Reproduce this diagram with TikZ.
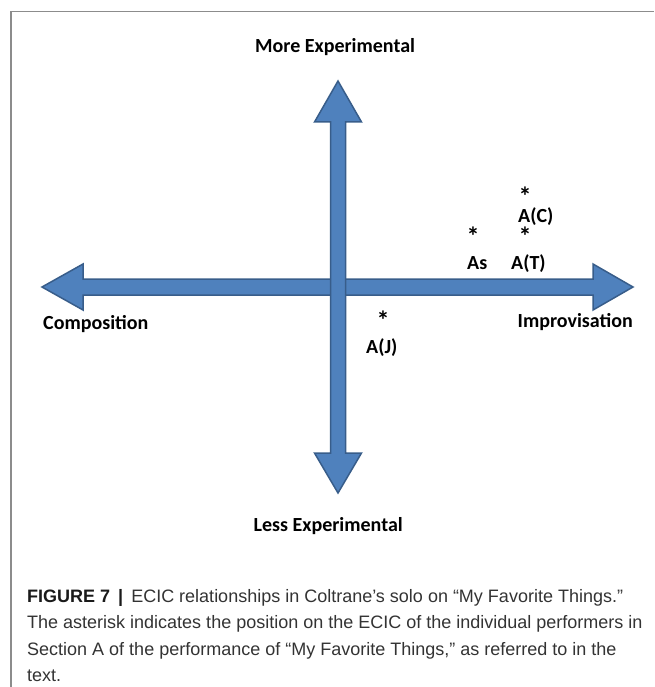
\documentclass[tikz,border=0pt]{standalone}
\usepackage{fontspec}
\setmainfont{Carlito}
\newfontfamily\capfont{Liberation Sans}
\definecolor{arrowfill}{HTML}{4F81BD}
\definecolor{arrowedge}{HTML}{385D8A}
\definecolor{framegray}{HTML}{8C8C8C}
\definecolor{captext}{HTML}{333333}
\definecolor{capbold}{HTML}{1A1A1A}
\begin{document}
\begin{tikzpicture}[x=1pt,y=-1pt,
  lbl/.style={font=\bfseries\fontsize{20}{24}\selectfont, inner sep=0pt, text=black},
  perf/.style={lbl, anchor=base west, text depth=0pt},
  star/.style={font=\bfseries\fontsize{26}{30}\selectfont, inner sep=0pt, anchor=base, text=black, text height=14pt, text depth=0pt},
  arrowshape/.style={fill=arrowfill, draw=arrowedge, line width=1.5pt, line join=miter},
  capline/.style={font=\capfont\fontsize{18}{22}\selectfont, inner sep=0pt, anchor=base west, text=captext}]
\useasboundingbox (0,0) rectangle (654,687);
% frame
\draw[framegray, line width=1.3pt] (11,687) -- (11,11.5) -- (654,11.5);
% horizontal double arrow
\path[arrowshape] (42,287) -- (83,264) -- (83,279) -- (593,279) -- (593,264) -- (633,287)
  -- (593,310) -- (593,295) -- (83,295) -- (83,310) -- cycle;
% vertical double arrow
\path[arrowshape] (338,81) -- (361.5,122) -- (345.5,122) -- (345.5,453) -- (361.5,453) -- (338,493)
  -- (314.5,453) -- (330.5,453) -- (330.5,122) -- (314.5,122) -- cycle;
% axis labels
\node[lbl, anchor=base west] (more) at (255,53) {More Experimental};
\node[lbl, anchor=base east] (less) at (403,531) {Less Experimental};
\node[lbl, anchor=base west] (comp) at (43,329) {Composition};
\node[lbl, anchor=base east] (impr) at (633,327) {Improvisation};
% performers
\node[perf] (as) at (467,269) {As};
\node[perf] (at) at (511,269) {A(T)};
\node[perf] (ac) at (518,222) {A(C)};
\node[perf] (aj) at (366,353) {A(J)};
\node[star] (sas) at (473,245) {*};
\node[star] (sat) at (525,245) {*};
\node[star] (sac) at (525,205) {*};
\node[star] (saj) at (383,329) {*};
% caption
\node[capline] (cap1) at (27,602.3) {\textcolor{capbold}{\bfseries FIGURE 7 \,|\,} ECIC relationships in Coltrane’s solo on “My Favorite Things.”};
\node[capline] (cap2) at (27,628.8) {The asterisk indicates the position on the ECIC of the individual performers in};
\node[capline] (cap3) at (27,655) {Section A of the performance of “My Favorite Things,” as referred to in the};
\node[capline] (cap4) at (27,681) {text.};
\end{tikzpicture}
\end{document}
